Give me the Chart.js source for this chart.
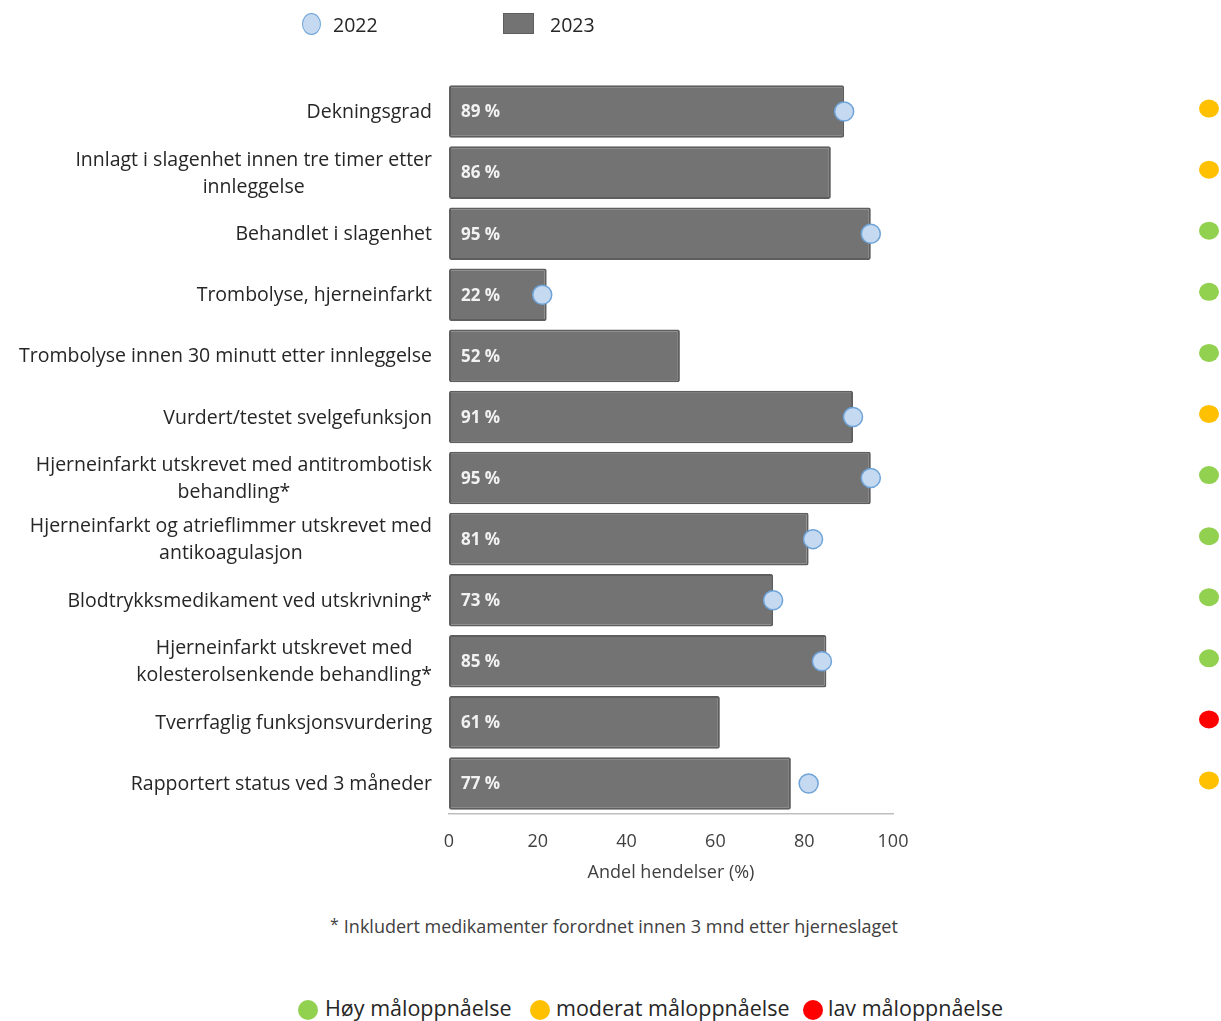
<!DOCTYPE html>
<html>
<head>
<meta charset="utf-8">
<script src="https://cdn.jsdelivr.net/npm/chart.js@4.4.1/dist/chart.umd.min.js"></script>
<style>
  body { margin: 0; background: #fff; font-family: "Open Sans", sans-serif; color: #262626; }
  #wrap { position: relative; width: 1221px; height: 1021px; overflow: hidden; }
  #myChart { position: absolute; left: 0; top: 0; }
  .leg { position: absolute; font-size: 19.5px; line-height: 24px; white-space: nowrap; }
  .dot { position: absolute; border-radius: 50%; }
  #note { position: absolute; left: 330px; top: 913px; font-size: 18px; color: #404040; white-space: nowrap; }
  #note sup { font-size: 16px; vertical-align: 3px; margin-right: 5px; }
</style>
</head>
<body>
<div id="wrap">
  <canvas id="myChart" width="1221" height="904"></canvas>

  <div class="dot" style="left:302px;top:13px;width:17px;height:20px;background:#c5d9f1;border:1.5px solid #6fa4d9;"></div>
  <div class="leg" style="left:333px;top:13px;">2022</div>
  <div class="dot" style="left:503px;top:13px;width:29px;height:19px;border-radius:0;background:#737373;border:1.5px solid #5e5e5e;"></div>
  <div class="leg" style="left:550px;top:13px;">2023</div>

  <div id="note"><sup>*</sup>Inkludert medikamenter forordnet innen 3 mnd etter hjerneslaget</div>

  <div class="dot" style="left:298px;top:1000px;width:20px;height:20px;background:#92d050;"></div>
  <div class="leg" style="left:325px;top:996px;font-size:21.5px;">Høy måloppnåelse</div>
  <div class="dot" style="left:530px;top:1000px;width:20px;height:20px;background:#ffc000;"></div>
  <div class="leg" style="left:556px;top:996px;font-size:21.5px;">moderat måloppnåelse</div>
  <div class="dot" style="left:803px;top:1000px;width:20px;height:20px;background:#ff0000;"></div>
  <div class="leg" style="left:828px;top:996px;font-size:21.5px;">lav måloppnåelse</div>
</div>

<script>
const categories = [
  "Dekningsgrad",
  ["Innlagt i slagenhet innen tre timer etter", "innleggelse"],
  "Behandlet i slagenhet",
  "Trombolyse, hjerneinfarkt",
  "Trombolyse innen 30 minutt etter innleggelse",
  "Vurdert/testet svelgefunksjon",
  ["Hjerneinfarkt utskrevet med antitrombotisk", "behandling*"],
  ["Hjerneinfarkt og atrieflimmer utskrevet med", "antikoagulasjon"],
  "Blodtrykksmedikament ved utskrivning*",
  ["Hjerneinfarkt utskrevet med", "kolesterolsenkende behandling*"],
  "Tverrfaglig funksjonsvurdering",
  "Rapportert status ved 3 måneder"
];

const values2023 = [89, 86, 95, 22, 52, 91, 95, 81, 73, 85, 61, 77];
const values2022 = [89, null, 95, 21, null, 91, 95, 82, 73, 84, null, 81];

// måloppnåelse per indikator
const status = ["moderat", "moderat", "hoy", "hoy", "hoy", "moderat", "hoy", "hoy", "hoy", "hoy", "lav", "moderat"];
const statusColors = { hoy: "#92d050", moderat: "#ffc000", lav: "#ff0000" };

const xTicks = [0, 20, 40, 60, 80, 100];

const FONT = "'Open Sans', sans-serif";

// y-axis labels: longest line right aligned, other lines centered under it
const yLabelsPlugin = {
  id: "yLabels",
  afterDraw(chart) {
    const ctx = chart.ctx;
    const yScale = chart.scales.y;
    const right = chart.chartArea.left - 17;
    ctx.save();
    ctx.font = "19.5px " + FONT;
    ctx.fillStyle = "#262626";
    ctx.textAlign = "center";
    ctx.textBaseline = "middle";
    categories.forEach((label, i) => {
      const lines = Array.isArray(label) ? label : [label];
      const maxW = Math.max(...lines.map(l => ctx.measureText(l).width));
      const cx = right - maxW / 2;
      const yc = yScale.getPixelForValue(i) + 1;
      lines.forEach((line, j) => {
        ctx.fillText(line, cx, yc + (j - (lines.length - 1) / 2) * 27);
      });
    });
    ctx.restore();
  }
};

// "89 %" inside each bar
const barLabelsPlugin = {
  id: "barLabels",
  afterDatasetsDraw(chart) {
    const ctx = chart.ctx;
    const meta = chart.getDatasetMeta(1);
    const x0 = chart.scales.x.getPixelForValue(0);
    ctx.save();
    ctx.font = "bold 17px " + FONT;
    ctx.fillStyle = "#f2f2f2";
    ctx.textAlign = "left";
    ctx.textBaseline = "middle";
    meta.data.forEach((bar, i) => {
      ctx.fillText(values2023[i] + " %", x0 + 12, bar.y + 1);
    });
    ctx.restore();
  }
};

// status dots in a column to the right
const statusPlugin = {
  id: "statusDots",
  afterDraw(chart) {
    const ctx = chart.ctx;
    const yScale = chart.scales.y;
    const x = chart.chartArea.right + 316;
    ctx.save();
    status.forEach((s, i) => {
      ctx.beginPath();
      ctx.ellipse(x, yScale.getPixelForValue(i) - 3, 10, 9, 0, 0, Math.PI * 2);
      ctx.fillStyle = statusColors[s];
      ctx.fill();
    });
    ctx.restore();
  }
};

const ctx = document.getElementById("myChart").getContext("2d");

const myChart = new Chart(ctx, {
  type: "bar",
  data: {
    labels: categories,
    datasets: [
      {
        type: "line",
        label: "2022",
        data: values2022,
        showLine: false,
        pointRadius: 9.5,
        pointHoverRadius: 9.5,
        pointBackgroundColor: "#c5d9f1",
        pointBorderColor: "#6fa4d9",
        pointBorderWidth: 1.5,
        order: 0
      },
      {
        label: "2023",
        data: values2023,
        backgroundColor: "#737373",
        borderColor: "#5e5e5e",
        borderWidth: 2,
        borderSkipped: false,
        borderRadius: 2,
        barPercentage: 0.86,
        categoryPercentage: 1,
        order: 1
      }
    ]
  },
  options: {
    indexAxis: "y",
    responsive: false,
    animation: false,
    layout: { padding: { left: 0, right: 328, top: 81, bottom: 0 } },
    plugins: {
      legend: { display: false },
      tooltip: { enabled: false }
    },
    scales: {
      x: {
        min: 0,
        max: 100,
        afterBuildTicks: scale => { scale.ticks = xTicks.map(v => ({ value: v })); },
        afterFit: scale => { scale.height = 90; },
        grid: { display: false, drawTicks: false },
        border: { display: true, color: "#bfbfbf", width: 1.5 },
        ticks: { padding: 17, color: "#404040", font: { family: FONT, size: 18 } },
        title: {
          display: true,
          text: "Andel hendelser (%)",
          color: "#404040",
          font: { family: FONT, size: 18 },
          padding: { top: 4, bottom: 20 }
        }
      },
      y: {
        afterFit: scale => { scale.width = 449; },
        grid: { display: false, drawTicks: false },
        border: { display: false },
        ticks: { display: false }
      }
    }
  },
  plugins: [yLabelsPlugin, barLabelsPlugin, statusPlugin]
});
</script>
</body>
</html>
